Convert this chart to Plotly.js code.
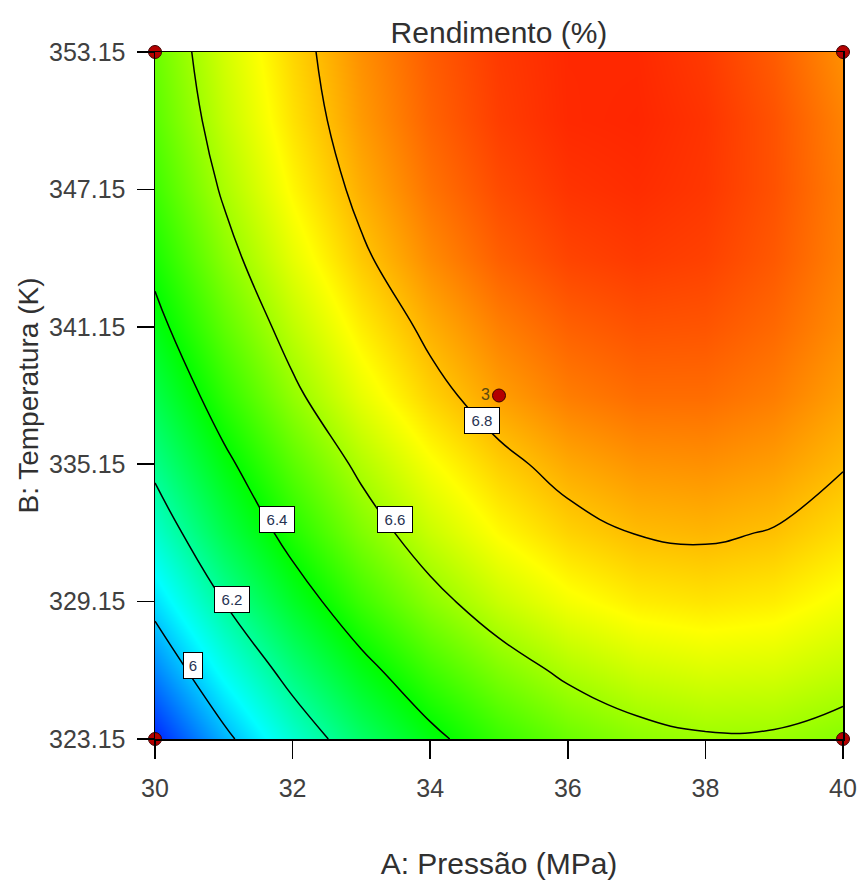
<!DOCTYPE html>
<html>
<head>
<meta charset="utf-8">
<script src="https://cdn.plot.ly/plotly-3.0.1.min.js"></script>
<style>html,body{margin:0;padding:0;background:#fff;}#chart{width:859px;height:884px;}</style>
</head>
<body>
<div id="chart"></div>
<script>
// ---- data ----
const pressure = [30, 31, 32, 33, 34, 35, 36, 37, 38, 39, 40];              // A: Pressão (MPa)
const temperature = [323.15, 326.15, 329.15, 332.15, 335.15, 338.15, 341.15, 344.15, 347.15, 350.15, 353.15]; // B: Temperatura (K)
// Rendimento (%) estimated at each (temperature row, pressure column)
const row323 = [5.797, 5.975, 6.131, 6.264, 6.375, 6.463, 6.528, 6.571, 6.591, 6.589, 6.564];
const row326 = [5.920, 6.092, 6.241, 6.369, 6.474, 6.557, 6.618, 6.657, 6.673, 6.668, 6.640];
const row329 = [6.032, 6.201, 6.347, 6.470, 6.571, 6.649, 6.705, 6.739, 6.750, 6.739, 6.705];
const row332 = [6.136, 6.299, 6.437, 6.554, 6.649, 6.722, 6.773, 6.802, 6.810, 6.796, 6.760];
const row335 = [6.224, 6.377, 6.509, 6.620, 6.710, 6.779, 6.827, 6.853, 6.858, 6.842, 6.805];
const row338 = [6.302, 6.452, 6.581, 6.689, 6.774, 6.839, 6.882, 6.903, 6.903, 6.882, 6.839];
const row341 = [6.371, 6.514, 6.637, 6.739, 6.819, 6.879, 6.918, 6.936, 6.933, 6.908, 6.863];
const row344 = [6.427, 6.568, 6.688, 6.787, 6.864, 6.920, 6.954, 6.967, 6.958, 6.928, 6.877];
const row347 = [6.474, 6.611, 6.727, 6.821, 6.894, 6.945, 6.975, 6.984, 6.971, 6.937, 6.881];
const row350 = [6.508, 6.642, 6.754, 6.845, 6.914, 6.962, 6.988, 6.992, 6.975, 6.936, 6.875];
const row353 = [6.530, 6.661, 6.770, 6.858, 6.923, 6.967, 6.989, 6.989, 6.967, 6.924, 6.858];
const contourLevels = [6.0, 6.2, 6.4, 6.6, 6.8];
const contourLabels = ["6", "6.2", "6.4", "6.6", "6.8"];
const designP = [30, 30, 40, 40];
const designT = [323.15, 353.15, 323.15, 353.15];
const centerP = [35];
const centerT = [338.15];
const centerReps = ["3"];
const xTicks = [30, 32, 34, 36, 38, 40];
const yTicks = [323.15, 329.15, 335.15, 341.15, 347.15, 353.15];
const yTickText = ["323.15", "329.15", "335.15", "341.15", "347.15", "353.15"];

const zGrid = [row323, row326, row329, row332, row335, row338, row341, row344, row347, row350, row353];

// ---- styling ----
const FONT = 'Liberation Sans, Arial, sans-serif';
const scale = [[0, '#0000FF'], [0.25, '#00FFFF'], [0.5, '#00FF00'], [0.75, '#FFFF00'], [1, '#FF0000']];
// label anchor spots along the contour lines (layout positions)
const labelSpots = [[30.55, 326.35], [31.115, 329.26], [31.77, 332.74], [33.49, 332.74], [34.75, 337.08]];

const traces = [
  {type: 'heatmap', x: pressure, y: temperature, z: zGrid, zsmooth: 'best',
   colorscale: scale, zmin: 5.75, zmax: 7.04, showscale: false, hoverinfo: 'skip'},
  {type: 'contour', x: pressure, y: temperature, z: zGrid, showscale: false, hoverinfo: 'skip',
   autocontour: false,
   contours: {coloring: 'none', start: contourLevels[0], end: contourLevels[contourLevels.length - 1],
              size: contourLevels[1] - contourLevels[0], showlabels: false},
   line: {color: '#000000', width: 1.5, smoothing: 1.3}},
  {type: 'scatter', mode: 'markers', x: designP, y: designT, cliponaxis: false, hoverinfo: 'skip',
   marker: {size: 13, color: '#B40000', line: {color: '#3a0000', width: 1}}},
  {type: 'scatter', mode: 'markers+text', x: centerP, y: centerT, text: centerReps,
   textposition: 'middle left', cliponaxis: false, hoverinfo: 'skip',
   textfont: {family: FONT, size: 16, color: '#5a4a10'},
   marker: {size: 13, color: '#B40000', line: {color: '#3a0000', width: 1}}}
];

const annotations = contourLabels.map((t, i) => ({
  x: labelSpots[i][0], y: labelSpots[i][1], xref: 'x', yref: 'y', text: t, showarrow: false,
  bgcolor: '#FFFFFF', bordercolor: '#000000', borderwidth: 1, borderpad: 3,
  width: t.length > 1 ? 28 : 12, height: 19,
  font: {family: FONT, size: 15, color: '#263252'}
}));

const axisCommon = {
  showgrid: false, zeroline: false, showline: true, linecolor: '#000000', linewidth: 1.5,
  mirror: true, ticks: 'outside', tickcolor: '#000000', tickwidth: 1.5,
  tickfont: {family: FONT, size: 25, color: '#404040'}, automargin: false
};

const layout = {
  width: 859, height: 884,
  margin: {l: 155, r: 16, t: 52, b: 145},
  paper_bgcolor: '#FFFFFF', plot_bgcolor: '#FFFFFF',
  showlegend: false,
  title: {text: 'Rendimento (%)', font: {family: FONT, size: 30, color: '#303030'},
          xref: 'paper', x: 0.5, xanchor: 'center', yref: 'container', y: 1 - 32 / 884, yanchor: 'middle'},
  xaxis: Object.assign({}, axisCommon, {
    range: [30, 40], tickvals: xTicks, ticklen: 18, ticklabelstandoff: 8,
    title: {text: 'A: Pressão (MPa)', font: {family: FONT, size: 30, color: '#303030'}, standoff: 52}
  }),
  yaxis: Object.assign({}, axisCommon, {
    range: [323.15, 353.15], tickvals: yTicks, ticktext: yTickText, ticklen: 17, ticklabelstandoff: 6,
    title: {text: 'B: Temperatura (K)', font: {family: FONT, size: 28, color: '#303030'}, standoff: 2}
  }),
  annotations: annotations
};

Plotly.newPlot('chart', traces, layout, {staticPlot: true, displayModeBar: false});
</script>
</body>
</html>
